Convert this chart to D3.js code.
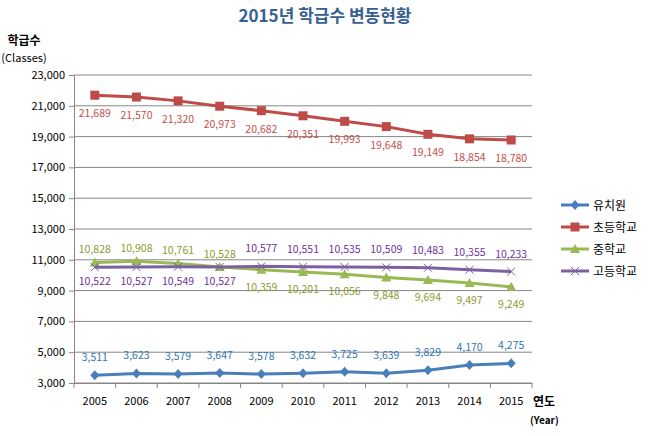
<!DOCTYPE html>
<html><head><meta charset="utf-8">
<script src="https://cdn.jsdelivr.net/npm/d3@7"></script>
<style>body{margin:0;background:#fff}svg{display:block}text{font-family:"Noto Sans CJK KR","Noto Sans",sans-serif}</style>
</head><body><svg id="c" width="650" height="436"></svg>
<script>
const years = ["2005","2006","2007","2008","2009","2010","2011","2012","2013","2014","2015"];
const kinder = [3511,3623,3579,3647,3578,3632,3725,3639,3829,4170,4275];
const elem = [21689,21570,21320,20973,20682,20351,19993,19648,19149,18854,18780];
const middle = [10828,10908,10761,10528,10359,10201,10056,9848,9694,9497,9249];
const high = [10522,10527,10549,10527,10577,10551,10535,10509,10483,10355,10233];
const seriesNames = ["유치원","초등학교","중학교","고등학교"];
const yTicks = [3000,5000,7000,9000,11000,13000,15000,17000,19000,21000,23000];

const svg = d3.select("#c");
const L=74,R=532,T=75,B=383;
const x = d3.scaleBand().domain(years).range([L,R]);
const y = d3.scaleLinear().domain([3000,23000]).range([B,T]);
const fmt = d3.format(",");

svg.append("text").attr("x",325).attr("y",22).attr("text-anchor","middle")
  .attr("font-size",17).attr("font-weight","bold").attr("fill","#376092").text("2015년 학급수 변동현황");
svg.append("text").attr("x",24).attr("y",45).attr("text-anchor","middle").attr("font-size",12).attr("font-weight","bold").text("학급수");
svg.append("text").attr("x",24).attr("y",62).attr("text-anchor","middle").attr("font-size",11).text("(Classes)");
svg.append("text").attr("x",533).attr("y",406).attr("font-size",12).attr("font-weight","bold").text("연도");
svg.append("text").attr("x",530).attr("y",424).attr("font-size",10).attr("font-weight","bold").text("(Year)");

svg.append("g").selectAll("line").data(yTicks).join("line")
  .attr("x1",L).attr("x2",R).attr("y1",d=>y(d)).attr("y2",d=>y(d)).attr("stroke","#868686").attr("stroke-width",1);

const ya = svg.append("g").attr("transform",`translate(${L},0)`)
  .call(d3.axisLeft(y).tickValues(yTicks).tickFormat(fmt).tickSize(5).tickPadding(4));
ya.selectAll("text").attr("font-size",11).attr("fill","#000");
ya.selectAll("line,path").attr("stroke","#868686");

const xa = svg.append("g").attr("transform",`translate(0,${B})`)
  .call(d3.axisBottom(x).tickSize(0).tickPadding(14));
xa.selectAll("text").attr("font-size",11).attr("fill","#000");
xa.select("path").attr("stroke","#868686");
const bounds = years.map(d=>x(d)).concat([R]);
xa.selectAll("line.b").data(bounds).join("line").attr("class","b")
  .attr("x1",d=>d).attr("x2",d=>d).attr("y1",0).attr("y2",5).attr("stroke","#868686");

const series = [
  {name:seriesNames[0], vals:kinder, color:"#4a7ebb", lab:"#2e75b6", marker:"diamond", off:()=>-18},
  {name:seriesNames[1], vals:elem, color:"#be4b48", lab:"#c0504d", marker:"square", off:()=>18},
  {name:seriesNames[2], vals:middle, color:"#98b954", lab:"#8c9a2e", marker:"triangle", off:i=>i<4?-13:17},
  {name:seriesNames[3], vals:high, color:"#7d60a0", lab:"#7030a0", marker:"x", off:i=>i<4?14:-18},
];
const line = d3.line().x((d,i)=>x(years[i])+x.bandwidth()/2).y(d=>y(d));

function drawMarker(g, type, color, cx, cy){
  if(type==="diamond") g.append("path").attr("d",`M${cx},${cy-5}L${cx+4.5},${cy}L${cx},${cy+5}L${cx-4.5},${cy}Z`).attr("fill",color);
  else if(type==="square") g.append("rect").attr("x",cx-4.5).attr("y",cy-4.5).attr("width",9).attr("height",9).attr("fill",color);
  else if(type==="triangle") g.append("path").attr("d",`M${cx},${cy-5}L${cx+5},${cy+4}L${cx-5},${cy+4}Z`).attr("fill",color);
  else g.append("path").attr("d",`M${cx-4},${cy-4}L${cx+4},${cy+4}M${cx-4},${cy+4}L${cx+4},${cy-4}`).attr("stroke",color).attr("stroke-width",1);
}

series.forEach(s=>{
  const g = svg.append("g");
  g.append("path").datum(s.vals).attr("d",line).attr("fill","none").attr("stroke",s.color).attr("stroke-width",3);
  s.vals.forEach((v,i)=>drawMarker(g,s.marker,s.color,x(years[i])+x.bandwidth()/2,y(v)));
  g.selectAll("text").data(s.vals).join("text")
    .attr("x",(d,i)=>x(years[i])+x.bandwidth()/2).attr("y",(d,i)=>y(d)+s.off(i)+4)
    .attr("text-anchor","middle").attr("font-size",10.5).attr("fill",s.lab).text(d=>fmt(d));
});

series.forEach((s,i)=>{
  const ly = 205+i*22;
  const g = svg.append("g");
  g.append("line").attr("x1",561).attr("x2",589).attr("y1",ly).attr("y2",ly).attr("stroke",s.color).attr("stroke-width",3);
  drawMarker(g,s.marker,s.color,575,ly);
  g.append("text").attr("x",593).attr("y",ly+4.5).attr("font-size",12).attr("fill","#000").text(s.name);
});
</script></body></html>
